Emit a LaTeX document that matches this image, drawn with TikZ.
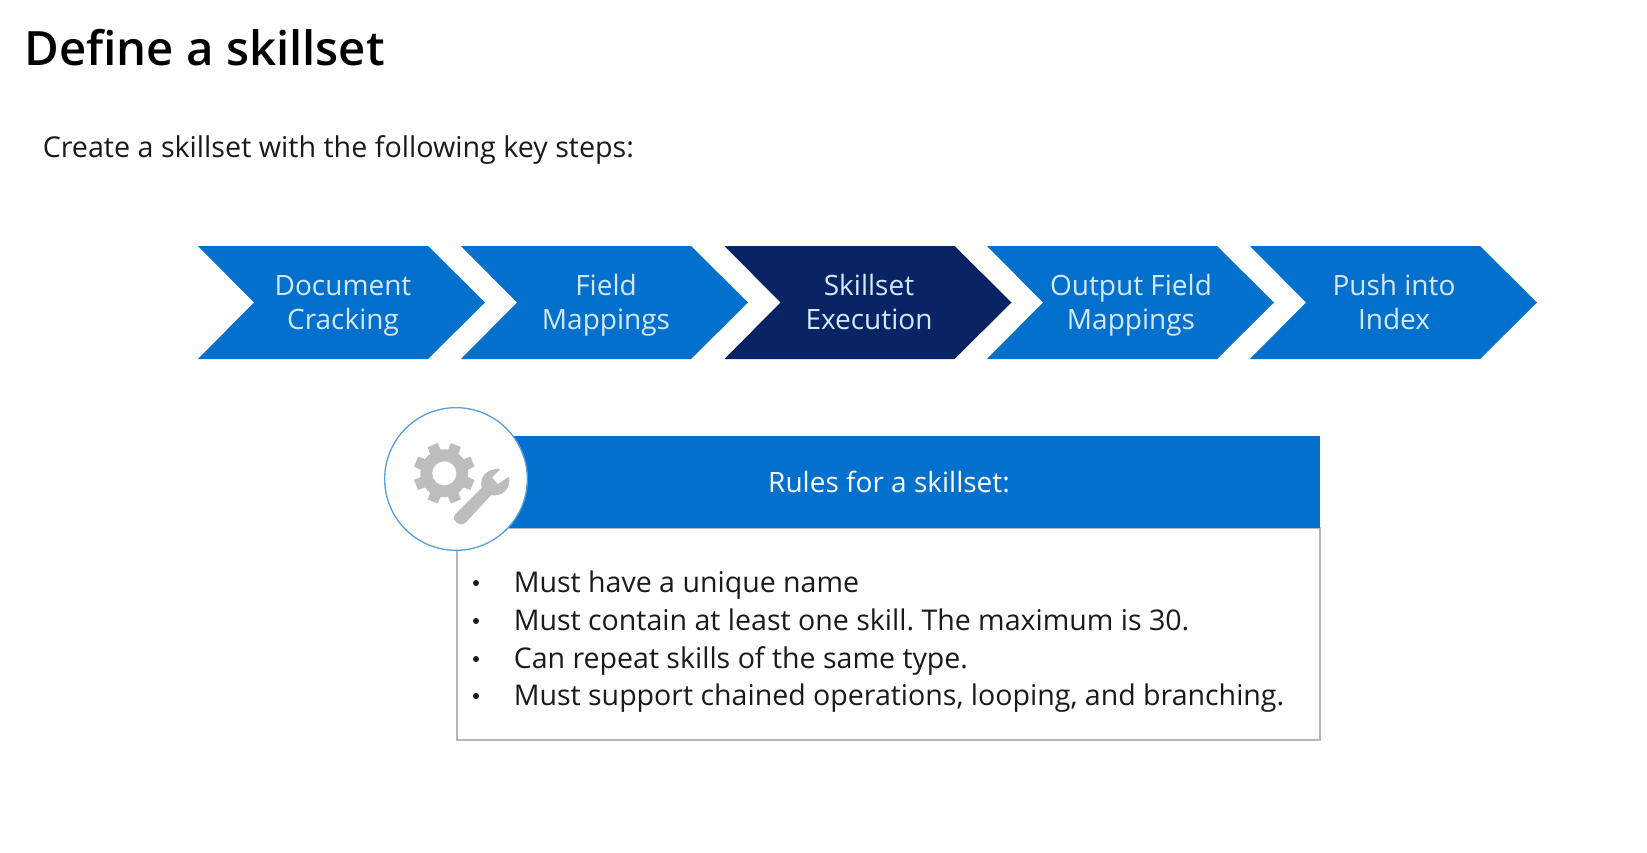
\documentclass[tikz,border=0pt]{standalone}
\usepackage{fontspec}
\setmainfont{Open Sans}
\newfontfamily\titlefont{Open Sans}[UprightFont=*,BoldFont=* Semibold]
\frenchspacing
\definecolor{blueA}{HTML}{0270CC}
\definecolor{navyA}{HTML}{0A2365}
\definecolor{lightT}{HTML}{D3E8F9}
\definecolor{inkA}{HTML}{1A1A1A}
\definecolor{ringA}{HTML}{5B9FDB}
\definecolor{boxA}{HTML}{B4B8BC}
\definecolor{iconA}{HTML}{BDBDBD}
\tikzset{
  x=0.75pt,y=-0.75pt,
  chevlabel/.style={text=lightT,font=\fontsize{21}{26}\selectfont,align=center,inner sep=0pt},
  bodytext/.style={text=inkA,font=\fontsize{21.4}{26}\selectfont,anchor=base west,inner sep=0pt},
  bulletdot/.style={circle,fill=inkA,minimum size=4.5pt,inner sep=0pt}
}
\newcommand{\chevshape}[2]{%
  \fill[#2] (#1,246) -- ++(230,0) -- ++(57,56.5) -- ++(-57,56.5) -- ++(-230,0) -- ++(56,-56.5) -- cycle;}
\begin{document}
\begin{tikzpicture}
\useasboundingbox (0,0) rectangle (1647,853);
\fill[white] (0,0) rectangle (1647,853);
\node[anchor=base west,inner sep=0pt,text=black,font=\fontsize{35.5}{44}\selectfont\titlefont\bfseries] (title) at (24,65) {Define a skillset};
\node[bodytext,font=\fontsize{21.5}{26}\selectfont] (intro) at (42.5,157) {Create a skillset with the following key steps:};
\chevshape{198}{blueA}
\chevshape{461}{blueA}
\chevshape{724.5}{navyA}
\chevshape{987}{blueA}
\chevshape{1250}{blueA}
\node[chevlabel] (s1) at (343,305.5) {\strut Document\\\strut Cracking};
\node[chevlabel] (s2) at (606,305.5) {\strut Field\\\strut Mappings};
\node[chevlabel] (s3) at (869,305.5) {\strut Skillset\\\strut Execution};
\node[chevlabel] (s4) at (1131,305.5) {\strut Output Field\\\strut Mappings};
\node[chevlabel] (s5) at (1394,305.5) {\strut Push into\\\strut Index};
\draw[boxA,line width=1.2pt,fill=white] (457,528) rectangle (1320,740);
\fill[blueA] (457,436) rectangle (1320,528);
\node[text=white,font=\fontsize{21}{26}\selectfont,inner sep=0pt] (rules) at (889,482) {Rules for a skillset:};
\node[circle,draw=ringA,fill=white,line width=1pt,minimum size=107pt,inner sep=0pt] (badge) at (456,479) {};
% gear
\begin{scope}[shift={(444.3,473.3)}]
  \fill[iconA] (0,0) circle[radius=24];
  \foreach \a in {22.5,67.5,...,337.5}{
    \fill[iconA] (\a-15:22) -- (\a-10:31) -- (\a+10:31) -- (\a+15:22) -- cycle;
  }
  \fill[white] (0,0) circle[radius=12];
\end{scope}
% wrench
\begin{scope}[shift={(405,435)},scale=0.3333]
  \filldraw[iconA,line width=1pt,line join=round] (152,240) -- (232,160) .. controls (225,125) and (245,105) .. (282,103)
    -- (258,127) -- (278,150) -- (311,128) .. controls (315,160) and (290,185) .. (258,178)
    -- (180,262) .. controls (165,275) and (140,255) .. (152,240) -- cycle;
\end{scope}
\foreach \n/\y/\t in {a/583/Must have a unique name,b/621/Must contain at least one skill. The maximum is 30.,c/659/Can repeat skills of the same type.,d/696/{Must support chained operations, looping, and branching.}}{
  \node[bulletdot] (dot\n) at (476,\y) {};
  \node[bodytext] (item\n) at (513.5,\y+9) {\t};
}
\end{tikzpicture}
\end{document}
